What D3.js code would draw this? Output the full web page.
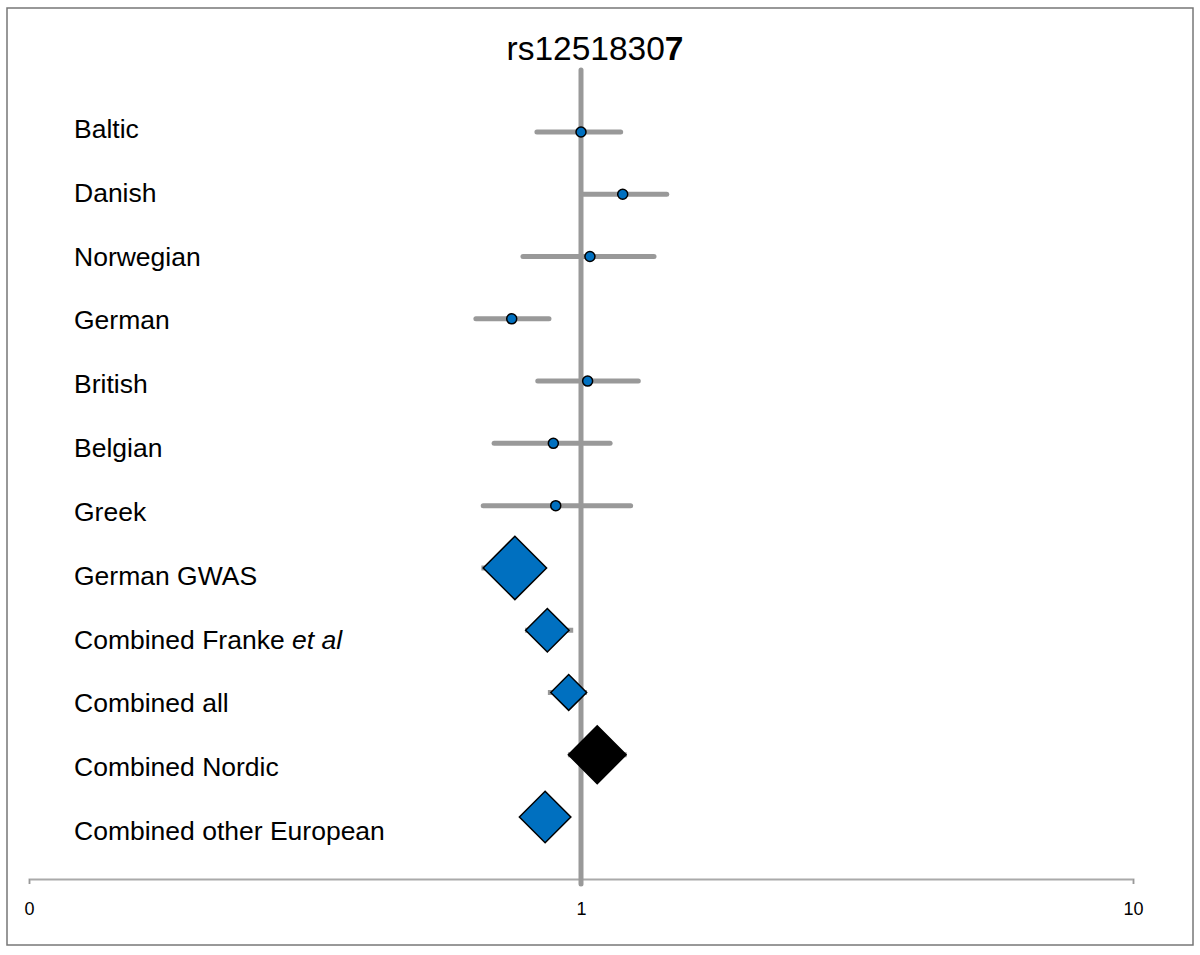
<!DOCTYPE html>
<html><head><meta charset="utf-8">
<script src="https://cdn.jsdelivr.net/npm/d3@7"></script>
<style>body{margin:0;background:#fff}svg{display:block}text{font-family:"Liberation Sans",Arial,Helvetica,sans-serif}</style>
</head><body>
<svg id="c" width="1200" height="955"></svg>
<script>
const studies = ["Baltic","Danish","Norwegian","German","British","Belgian","Greek","German GWAS","Combined Franke et al","Combined all","Combined Nordic","Combined other European"];
const oddsRatio = [1.00,1.19,1.038,0.749,1.028,0.891,0.90,0.759,0.869,0.95,1.07,0.861];
const ciLower = [0.832,1.005,0.785,0.645,0.835,0.696,0.665,0.66,0.792,0.871,0.947,0.80];
const ciUpper = [1.18,1.43,1.356,0.875,1.27,1.129,1.23,0.85,0.968,1.025,1.21,0.93];
const markType = ["point","point","point","point","point","point","point","diamond","diamond","diamond","diamond","diamond"];
const weight = [0,0,0,0,0,0,0,100,47,32,83,66];
const highlight = [false,false,false,false,false,false,false,false,false,false,true,false];
const tickValues = [0.1,1,10];
const tickLabels = ["0","1","10"];

const svg = d3.select("#c");
svg.append("rect").attr("x",7).attr("y",8).attr("width",1186).attr("height",937)
  .attr("fill","none").attr("stroke","#777").attr("stroke-width",1.5);

const x = d3.scaleLog().domain([0.1,10]).range([29,1133]);
const yMark = d3.scalePoint().domain(studies).range([132,817]);
const yLab = d3.scalePoint().domain(studies).range([129,831]);
const size = d3.scaleSqrt().domain([0,100]).range([0,31.7]);

// axis
const axis = d3.axisBottom(x).tickValues(tickValues)
  .tickFormat((d,i)=>tickLabels[i]).tickSizeOuter(0).tickSize(5).tickPadding(18);
const ag = svg.append("g").attr("transform","translate(0,879)").call(axis);
ag.select(".domain").attr("stroke","#aaa").attr("stroke-width",2);
ag.selectAll(".tick line").attr("stroke","#999");
ag.selectAll(".tick text").attr("font-size",18).attr("fill","#000")
  .style("font-family","'Liberation Sans',Arial,sans-serif");

// reference line
svg.append("line").attr("x1",x(1)).attr("x2",x(1)).attr("y1",70).attr("y2",884)
  .attr("stroke","#999").attr("stroke-width",5).attr("stroke-linecap","round");

// title
const t = svg.append("text").attr("x",595).attr("y",60).attr("text-anchor","middle")
  .attr("font-size",33.5).attr("fill","#000");
t.append("tspan").text("rs1251830");
t.append("tspan").attr("font-weight","bold").text("7");

// labels
const lab = svg.append("g").selectAll("text").data(studies).join("text")
  .attr("x",74).attr("y",d=>yLab(d)+9).attr("font-size",26.5).attr("fill","#000");
lab.each(function(d){
  const s = d3.select(this);
  if (d.endsWith(" et al")) {
    s.append("tspan").text(d.replace(" et al"," "));
    s.append("tspan").attr("font-style","italic").text("et al");
  } else s.text(d);
});

const idx = d3.range(studies.length);
// CI lines
svg.append("g").selectAll("line").data(idx).join("line")
  .attr("x1",i=>x(ciLower[i])).attr("x2",i=>x(ciUpper[i]))
  .attr("y1",i=>yMark(studies[i])).attr("y2",i=>yMark(studies[i]))
  .attr("stroke","#999").attr("stroke-width",5)
  .attr("stroke-linecap",i=>markType[i]==="point"?"round":"butt");

// points
svg.append("g").selectAll("circle").data(idx.filter(i=>markType[i]==="point")).join("circle")
  .attr("cx",i=>x(oddsRatio[i])).attr("cy",i=>yMark(studies[i])).attr("r",5)
  .attr("fill","#0070C0").attr("stroke","#000").attr("stroke-width",1.5);

// diamonds
svg.append("g").selectAll("path").data(idx.filter(i=>markType[i]==="diamond")).join("path")
  .attr("d",i=>{
    const cx=x(oddsRatio[i]), cy=yMark(studies[i]), h=size(weight[i]);
    return `M${cx-h},${cy}L${cx},${cy-h}L${cx+h},${cy}L${cx},${cy+h}Z`;
  })
  .attr("fill",i=>highlight[i]?"#000":"#0070C0").attr("stroke","#000").attr("stroke-width",1.5)
  .attr("stroke-linejoin","miter");
</script>
</body></html>
